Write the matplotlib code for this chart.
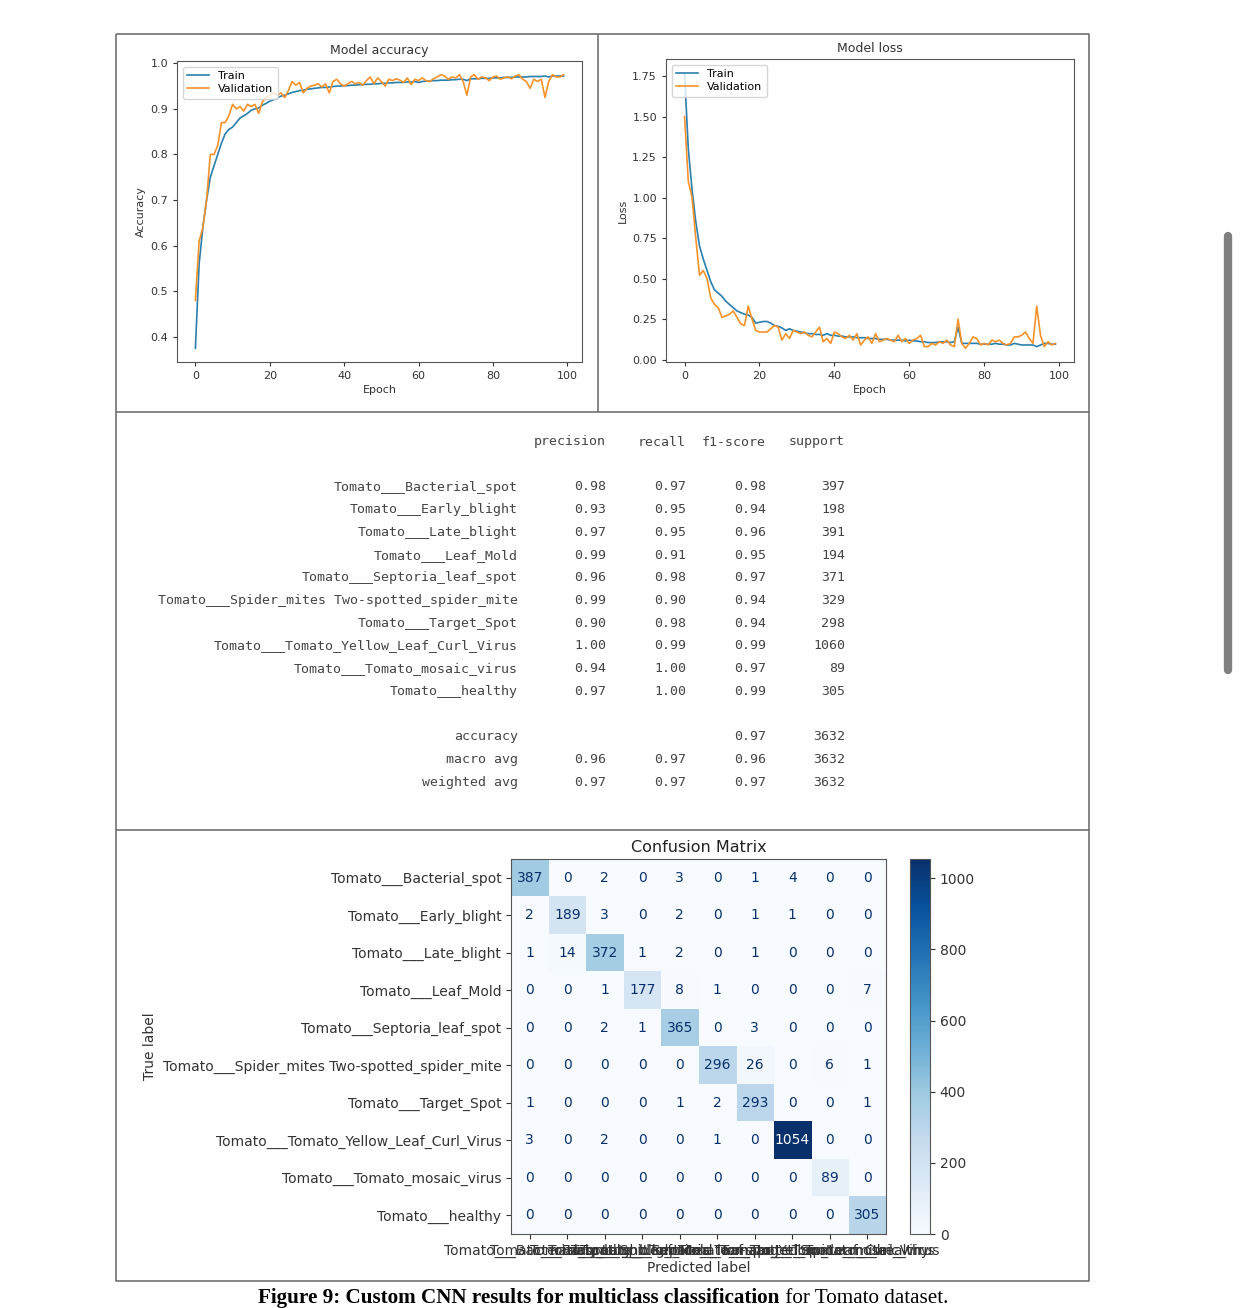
import numpy as np
import matplotlib.pyplot as plt

# ------------------------------------------------------------
#  Datos
# ------------------------------------------------------------
epochs = np.arange(100)

acc_train = [
    0.375, 0.56, 0.64, 0.70, 0.75, 0.775, 0.80, 0.825, 0.845, 0.855,
    0.86, 0.87, 0.88, 0.885, 0.89, 0.897, 0.90, 0.902, 0.908, 0.912,
    0.917, 0.92, 0.924, 0.928, 0.93, 0.933, 0.936, 0.938, 0.94, 0.941,
    0.943, 0.944, 0.945, 0.946, 0.947, 0.947, 0.948, 0.949, 0.95, 0.95,
    0.951, 0.951, 0.952, 0.952, 0.953, 0.953, 0.954, 0.954, 0.955, 0.955,
    0.956, 0.956, 0.957, 0.957, 0.958, 0.958, 0.958, 0.959, 0.959, 0.96,
    0.958, 0.96, 0.961, 0.961, 0.962, 0.962, 0.963, 0.963, 0.963, 0.964,
    0.964, 0.965, 0.965, 0.962, 0.966, 0.966, 0.966, 0.967, 0.967, 0.967,
    0.968, 0.968, 0.968, 0.969, 0.969, 0.969, 0.97, 0.97, 0.97, 0.97,
    0.971, 0.971, 0.971, 0.971, 0.972, 0.97, 0.972, 0.972, 0.972, 0.972,
]
acc_val = [
    0.48, 0.61, 0.64, 0.70, 0.80, 0.80, 0.82, 0.87, 0.87, 0.885,
    0.91, 0.90, 0.905, 0.895, 0.91, 0.905, 0.91, 0.89, 0.915, 0.925,
    0.93, 0.935, 0.93, 0.935, 0.925, 0.94, 0.96, 0.952, 0.958, 0.935,
    0.945, 0.95, 0.952, 0.955, 0.948, 0.955, 0.935, 0.96, 0.965, 0.955,
    0.95, 0.955, 0.96, 0.955, 0.958, 0.952, 0.962, 0.97, 0.955, 0.968,
    0.96, 0.95, 0.965, 0.962, 0.966, 0.963, 0.958, 0.968, 0.953, 0.965,
    0.962, 0.968, 0.962, 0.96, 0.966, 0.97, 0.975, 0.972, 0.965, 0.97,
    0.968, 0.975, 0.96, 0.93, 0.97, 0.975, 0.965, 0.97, 0.968, 0.962,
    0.97, 0.972, 0.965, 0.968, 0.97, 0.966, 0.972, 0.975, 0.965, 0.96,
    0.945, 0.965, 0.96, 0.965, 0.925, 0.96, 0.975, 0.97, 0.97, 0.975,
]
loss_train = [
    1.77, 1.30, 1.05, 0.85, 0.70, 0.62, 0.55, 0.48, 0.43, 0.41,
    0.39, 0.36, 0.34, 0.32, 0.30, 0.29, 0.28, 0.275, 0.26, 0.225,
    0.23, 0.235, 0.235, 0.225, 0.21, 0.205, 0.195, 0.18, 0.19, 0.18,
    0.175, 0.17, 0.165, 0.16, 0.16, 0.155, 0.155, 0.15, 0.16, 0.15,
    0.15, 0.145, 0.145, 0.14, 0.14, 0.14, 0.135, 0.135, 0.135, 0.13,
    0.13, 0.13, 0.125, 0.125, 0.125, 0.12, 0.12, 0.12, 0.12, 0.115,
    0.12, 0.115, 0.115, 0.11, 0.11, 0.105, 0.105, 0.105, 0.11, 0.11,
    0.11, 0.105, 0.11, 0.20, 0.10, 0.10, 0.10, 0.10, 0.10, 0.095,
    0.095, 0.095, 0.095, 0.10, 0.095, 0.095, 0.09, 0.09, 0.10, 0.095,
    0.09, 0.09, 0.09, 0.09, 0.08, 0.09, 0.10, 0.10, 0.095, 0.095,
]
loss_val = [
    1.50, 1.10, 1.00, 0.75, 0.52, 0.55, 0.50, 0.38, 0.34, 0.32,
    0.26, 0.27, 0.28, 0.30, 0.26, 0.22, 0.21, 0.33, 0.25, 0.18,
    0.17, 0.17, 0.17, 0.19, 0.21, 0.20, 0.12, 0.16, 0.13, 0.18,
    0.17, 0.16, 0.17, 0.15, 0.14, 0.17, 0.20, 0.11, 0.13, 0.10,
    0.17, 0.16, 0.14, 0.13, 0.15, 0.12, 0.16, 0.09, 0.12, 0.14,
    0.10, 0.16, 0.11, 0.12, 0.13, 0.12, 0.11, 0.15, 0.11, 0.13,
    0.10, 0.12, 0.13, 0.15, 0.08, 0.08, 0.10, 0.09, 0.11, 0.10,
    0.12, 0.09, 0.08, 0.25, 0.10, 0.07, 0.10, 0.14, 0.13, 0.09,
    0.10, 0.09, 0.12, 0.11, 0.12, 0.10, 0.09, 0.10, 0.14, 0.14,
    0.15, 0.17, 0.13, 0.10, 0.33, 0.15, 0.08, 0.11, 0.09, 0.10,
]

clases = [
    "Tomato___Bacterial_spot",
    "Tomato___Early_blight",
    "Tomato___Late_blight",
    "Tomato___Leaf_Mold",
    "Tomato___Septoria_leaf_spot",
    "Tomato___Spider_mites Two-spotted_spider_mite",
    "Tomato___Target_Spot",
    "Tomato___Tomato_Yellow_Leaf_Curl_Virus",
    "Tomato___Tomato_mosaic_virus",
    "Tomato___healthy",
]
precision = [0.98, 0.93, 0.97, 0.99, 0.96, 0.99, 0.90, 1.00, 0.94, 0.97]
recall    = [0.97, 0.95, 0.95, 0.91, 0.98, 0.90, 0.98, 0.99, 1.00, 1.00]
f1        = [0.98, 0.94, 0.96, 0.95, 0.97, 0.94, 0.94, 0.99, 0.97, 0.99]
support   = [397, 198, 391, 194, 371, 329, 298, 1060, 89, 305]

resumen_nombres = ["accuracy", "macro avg", "weighted avg"]
resumen_prec    = [None, 0.96, 0.97]
resumen_rec     = [None, 0.97, 0.97]
resumen_f1      = [0.97, 0.96, 0.97]
resumen_sup     = [3632, 3632, 3632]

cm = np.array([
    [387, 0, 2, 0, 3, 0, 1, 4, 0, 0],
    [2, 189, 3, 0, 2, 0, 1, 1, 0, 0],
    [1, 14, 372, 1, 2, 0, 1, 0, 0, 0],
    [0, 0, 1, 177, 8, 1, 0, 0, 0, 7],
    [0, 0, 2, 1, 365, 0, 3, 0, 0, 0],
    [0, 0, 0, 0, 0, 296, 26, 0, 6, 1],
    [1, 0, 0, 0, 1, 2, 293, 0, 0, 1],
    [3, 0, 2, 0, 0, 1, 0, 1054, 0, 0],
    [0, 0, 0, 0, 0, 0, 0, 0, 89, 0],
    [0, 0, 0, 0, 0, 0, 0, 0, 0, 305],
])

# ------------------------------------------------------------
#  Figura
# ------------------------------------------------------------
W, H = 1242, 1308
fig = plt.figure(figsize=(W / 100, H / 100), dpi=100)
TXT = "#333333"
SPINE = "#555555"


def px_axes(left, top, right, bottom):
    return fig.add_axes([left / W, 1 - bottom / H,
                         (right - left) / W, (bottom - top) / H])


# fondo en pixeles para marcos, tabla y leyenda
bg = fig.add_axes([0, 0, 1, 1])
bg.set_xlim(0, W)
bg.set_ylim(H, 0)
bg.axis("off")

frame_kw = dict(color="#666666", lw=1.1, solid_capstyle="butt")
bg.plot([116, 1089, 1089, 116, 116], [34, 34, 1281, 1281, 34], **frame_kw)
bg.plot([598, 598], [34, 412], **frame_kw)
bg.plot([116, 1089], [412, 412], **frame_kw)
bg.plot([116, 1089], [830, 830], **frame_kw)

# barra de desplazamiento de la captura
bg.plot([1228, 1228], [236, 670], color="#808080", lw=6, solid_capstyle="round")


def estilo_curva(ax, titulo, ylabel):
    ax.set_title(titulo, fontsize=9, color=TXT, pad=5)
    ax.set_xlabel("Epoch", fontsize=8, color=TXT, labelpad=3)
    ax.set_ylabel(ylabel, fontsize=8, color=TXT, labelpad=3)
    ax.tick_params(labelsize=8, colors=TXT, length=3)
    for s in ax.spines.values():
        s.set_color(SPINE)
    ax.legend(loc="upper left", fontsize=8, frameon=True, edgecolor="#cccccc",
              handlelength=2.0, borderpad=0.4, labelspacing=0.3)


C_TRAIN = "#2a7fae"
C_VAL = "#f5922a"

ax1 = px_axes(177, 61, 582, 362)
ax1.plot(epochs, acc_train, color=C_TRAIN, lw=1.2, label="Train")
ax1.plot(epochs, acc_val, color=C_VAL, lw=1.2, label="Validation")
ax1.set_xticks([0, 20, 40, 60, 80, 100])
estilo_curva(ax1, "Model accuracy", "Accuracy")

ax2 = px_axes(666, 59, 1074, 362)
ax2.plot(epochs, loss_train, color=C_TRAIN, lw=1.2, label="Train")
ax2.plot(epochs, loss_val, color=C_VAL, lw=1.2, label="Validation")
ax2.set_xticks([0, 20, 40, 60, 80, 100])
ax2.set_yticks(np.arange(0, 1.76, 0.25))
estilo_curva(ax2, "Model loss", "Loss")

# ------------------------------------------------------------
#  Reporte de clasificacion (texto monoespaciado)
# ------------------------------------------------------------
mono = dict(family="DejaVu Sans Mono", fontsize=9.5, color="#444444",
            ha="right", va="center")
col_x = [518, 606, 686, 766, 845]
for x, h in zip(col_x[1:], ["precision", "recall", "f1-score", "support"]):
    bg.text(x, 442, h, **mono)

y0, dy = 487, 22.7
for i, nombre in enumerate(clases):
    y = y0 + i * dy
    fila = [nombre, f"{precision[i]:.2f}", f"{recall[i]:.2f}",
            f"{f1[i]:.2f}", str(support[i])]
    for x, t in zip(col_x, fila):
        bg.text(x, y, t, **mono)

y1 = y0 + (len(clases) + 1) * dy
for j, nombre in enumerate(resumen_nombres):
    y = y1 + j * dy
    fila = [nombre,
            "" if resumen_prec[j] is None else f"{resumen_prec[j]:.2f}",
            "" if resumen_rec[j] is None else f"{resumen_rec[j]:.2f}",
            f"{resumen_f1[j]:.2f}", str(resumen_sup[j])]
    for x, t in zip(col_x, fila):
        bg.text(x, y, t, **mono)

# ------------------------------------------------------------
#  Matriz de confusion
# ------------------------------------------------------------
etiquetas_cm = [c for c in clases]
ax3 = px_axes(511, 859, 886, 1234)
im = ax3.imshow(cm, cmap="Blues", aspect="auto", vmin=0, vmax=cm.max())
cmap_min, cmap_max = im.cmap(0), im.cmap(1.0)
umbral = (cm.max() + cm.min()) / 2.0
for r in range(cm.shape[0]):
    for c in range(cm.shape[1]):
        color = cmap_max if cm[r, c] < umbral else cmap_min
        ax3.text(c, r, f"{cm[r, c]}", ha="center", va="center",
                 fontsize=10, color=color)
ax3.set_xticks(range(len(etiquetas_cm)))
ax3.set_yticks(range(len(etiquetas_cm)))
# etiquetas horizontales superpuestas, como en la figura original
ax3.set_xticklabels(etiquetas_cm, fontsize=10)
ax3.set_yticklabels(etiquetas_cm, fontsize=10)
ax3.tick_params(colors=TXT, length=3.5)
ax3.set_xlabel("Predicted label", fontsize=10, color=TXT, labelpad=2)
ax3.set_ylabel("True label", fontsize=10, color=TXT)
ax3.set_title("Confusion Matrix", fontsize=11.5, color="#222222", pad=5)
for s in ax3.spines.values():
    s.set_color(SPINE)

cax = px_axes(910, 859, 930, 1234)
cb = fig.colorbar(im, cax=cax)
cb.set_ticks([0, 200, 400, 600, 800, 1000])
cb.ax.tick_params(labelsize=10, colors=TXT, length=3.5)
cb.outline.set_edgecolor(SPINE)

# ------------------------------------------------------------
#  Pie de figura
# ------------------------------------------------------------
cap_kw = dict(family="Liberation Serif", fontsize=15.2, color="black",
              ha="left", va="baseline")
t1 = bg.text(0, 1303, "Figure 9: Custom CNN results for multiclass classification",
             fontweight="bold", **cap_kw)
t2 = bg.text(0, 1303, " for Tomato dataset.", **cap_kw)
renderer = fig.canvas.get_renderer()
w1 = t1.get_window_extent(renderer).width
w2 = t2.get_window_extent(renderer).width
x_ini = 603 - (w1 + w2) / 2
t1.set_x(x_ini)
t2.set_x(x_ini + w1)

fig.savefig("out.png", dpi=100)
